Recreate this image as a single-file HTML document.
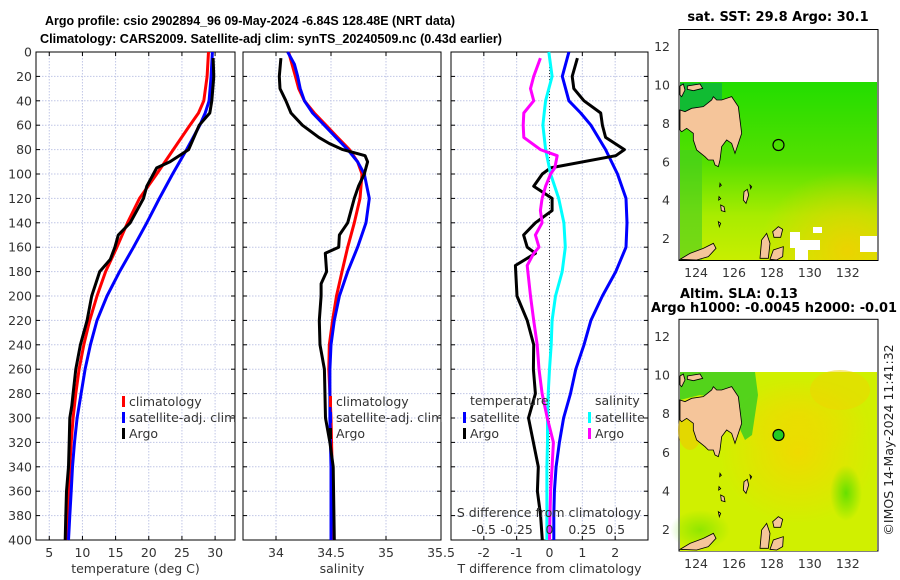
<!DOCTYPE html>
<html><head><meta charset="utf-8"><style>
html,body{margin:0;padding:0;background:#fff;}
svg{display:block;font-family:"DejaVu Sans","Liberation Sans",sans-serif;}
.tk{font-size:12.5px;fill:#333;}
.ttl{font-size:13px;font-weight:bold;fill:#000;font-family:"Liberation Sans",sans-serif;}
</style></head><body>
<svg id="fig" width="900" height="580" viewBox="0 0 900 580" xmlns="http://www.w3.org/2000/svg">
<defs>
<linearGradient id="sstg" x1="0" y1="0" x2="0" y2="1">
<stop offset="0" stop-color="#22dd00"/><stop offset="0.45" stop-color="#55e000"/><stop offset="0.75" stop-color="#a8ec00"/><stop offset="1" stop-color="#c8ee00"/></linearGradient>
<radialGradient id="sstr" cx="0.85" cy="0.95" r="0.45"><stop offset="0" stop-color="#f0d000" stop-opacity="0.9"/><stop offset="1" stop-color="#f0d000" stop-opacity="0"/></radialGradient>
<radialGradient id="slar" cx="0.6" cy="0.45" r="0.4"><stop offset="0" stop-color="#f2d800" stop-opacity="0.9"/><stop offset="1" stop-color="#f2d800" stop-opacity="0"/></radialGradient>
<radialGradient id="slag" cx="0.5" cy="0.5" r="0.5"><stop offset="0" stop-color="#66e000"/><stop offset="1" stop-color="#66e000" stop-opacity="0"/></radialGradient>
<g id="land">
<path d="M90,330 L105,335 L125,325 L160,320 L185,300 L190,290 L200,300 L215,300 L245,290 L265,320 L275,400 L265,430 L255,460 L245,430 L230,420 L215,440 L210,480 L205,500 L195,495 L190,480 L175,480 L165,470 L140,450 L130,420 L130,400 L110,385 L95,395 L90,390 Z" fill="#f5c59a" stroke="#000" stroke-width="2.5"/>
<path d="M112,258 L150,252 L158,265 L130,272 L112,268 Z" fill="#f5c59a" stroke="#000" stroke-width="2.5"/>
<path d="M90,258 L100,252 L105,270 L95,290 L90,285 Z" fill="#f5c59a" stroke="#000" stroke-width="2.5"/>
<path d="M330,775 L335,720 L350,700 L360,730 L355,775 Z" fill="#f5c59a" stroke="#000" stroke-width="2.5"/>
<path d="M368,695 L385,680 L398,688 L392,712 L372,712 Z" fill="#f5c59a" stroke="#000" stroke-width="2.5"/>
<path d="M360,778 L370,750 L400,740 L398,770 L380,780 Z" fill="#f5c59a" stroke="#000" stroke-width="2.5"/>
<path d="M90,778 L120,760 L160,745 L190,730 L198,745 L175,770 L140,780 Z" fill="#f5c59a" stroke="#000" stroke-width="2.5"/>
<path d="M282,575 L292,568 L296,585 L288,610 L280,600 Z" fill="#f5c59a" stroke="#000" stroke-width="2.5"/>
<path d="M212,615 L222,620 L225,635 L214,632 Z M205,665 L212,670 L208,680 Z M300,555 L305,560 L302,566 Z M207,590 L212,596 L206,600 Z M210,550 L214,556 L209,560 Z" fill="#f5c59a" stroke="#000" stroke-width="2.5"/>
</g>
</defs>
<g id="titles">
<text class="ttl" x="45" y="25" textLength="410" lengthAdjust="spacingAndGlyphs">Argo profile: csio 2902894_96 09-May-2024 -6.84S 128.48E (NRT data)</text>
<text class="ttl" x="40" y="43" textLength="462" lengthAdjust="spacingAndGlyphs">Climatology: CARS2009. Satellite-adj clim: synTS_20240509.nc (0.43d earlier)</text>
</g>
<g id="plots"></g>
<g id="maps">
<g>
<rect x="679" y="29.5" width="199" height="231" fill="#fff" stroke="#000" stroke-width="1"/>
<rect x="680" y="82" width="197" height="178" fill="url(#sstg)"/>
<rect x="680" y="82" width="197" height="178" fill="url(#sstr)"/>
<rect x="680" y="83" width="42" height="28" fill="#11bb33"/>
<rect x="680" y="150" width="22" height="110" fill="#44cc22" opacity="0.6"/>
<path d="M790,232 L800,232 L800,240 L820,240 L820,250 L808,250 L808,260 L795,260 L795,248 L790,248 Z M860,236 L877,236 L877,252 L860,252 Z M813,227 L822,227 L822,233 L813,233 Z" fill="#fff"/>
<use href="#land" transform="translate(650,0) scale(0.33333)"/>
<circle cx="778.5" cy="145" r="5.5" fill="none" stroke="#000" stroke-width="1.2"/>
<text class="ttl" x="778" y="21" text-anchor="middle" style="font-family:'DejaVu Sans',sans-serif">sat. SST: 29.8 Argo: 30.1</text>
<text class="ttl" x="680" y="298" style="font-family:'DejaVu Sans',sans-serif">Altim. SLA: 0.13</text>
</g>
<g>
<rect x="679" y="319.3" width="199" height="231.7" fill="#fff" stroke="#000" stroke-width="1"/>
<rect x="680" y="372" width="197" height="179" fill="#d0f000"/>
<rect x="680" y="372" width="197" height="179" fill="url(#slar)"/>
<rect x="680" y="372" width="197" height="100" fill="url(#slar)" opacity="0.6"/>
<ellipse cx="840" cy="390" rx="30" ry="20" fill="#f0d400" opacity="0.5"/>
<path d="M680,372 L755,372 L758,395 L752,435 L745,440 L738,425 L730,400 L700,395 L680,400 Z" fill="#33cc22" opacity="0.8"/>
<ellipse cx="846" cy="493" rx="16" ry="28" fill="url(#slag)"/>
<ellipse cx="700" cy="530" rx="30" ry="20" fill="url(#slag)" opacity="0.6"/>
<ellipse cx="690" cy="430" rx="12" ry="20" fill="#f0c800" opacity="0.6"/>
<use href="#land" transform="translate(650,290) scale(0.33333)"/>
<circle cx="778.5" cy="435" r="5.5" fill="#22cc22" stroke="#000" stroke-width="1.2"/>
<text class="ttl" x="651" y="312" textLength="246" lengthAdjust="spacingAndGlyphs" style="font-family:'DejaVu Sans',sans-serif">Argo h1000: -0.0045 h2000: -0.01</text>
<text class="tk" transform="translate(893,440) rotate(-90)" text-anchor="middle" style="font-size:12.5px;fill:#222">©IMOS 14-May-2024 11:41:32</text>
</g>
</g>
</svg>
<script>
// ---- data ----
const depths = [0,20,40,50,60,80,100,120,140,160,180,200,220,240,260,280,300,320,340,360,380,400];
const tempClim = [29.0,28.8,28.3,27.5,26.2,23.7,21.2,18.6,16.8,15.2,13.5,12.2,11.1,10.2,9.5,9.0,8.6,8.3,8.1,7.9,7.8,7.6];
const tempSat = [29.6,29.4,29.1,28.5,27.7,25.7,23.6,21.6,19.7,17.7,15.6,13.7,12.2,11.2,10.4,9.8,9.2,8.8,8.5,8.3,8.1,7.9];
const argoDepths = [5,20,40,50,60,80,90,95,100,110,120,140,150,160,170,180,200,220,240,260,280,290,300,320,340,360,380,400];
const tempArgo = [29.7,29.8,29.5,29.2,27.6,26.0,23.2,21.2,20.7,19.7,19.2,17.2,15.4,14.9,14.2,12.6,11.4,10.7,9.7,9.0,8.6,8.4,8.1,8.0,7.9,7.6,7.5,7.4];

const salDepths = [0,10,20,30,40,50,60,70,80,90,100,120,140,160,180,200,220,240,260,300,340,400];
const salClim = [34.115,34.145,34.176,34.206,34.258,34.348,34.455,34.56,34.667,34.742,34.782,34.764,34.712,34.652,34.6,34.55,34.515,34.485,34.48,34.5,34.51,34.52];
const salSat = [34.106,34.167,34.197,34.22,34.258,34.333,34.439,34.545,34.652,34.742,34.803,34.848,34.818,34.742,34.652,34.576,34.53,34.5,34.49,34.49,34.5,34.5];
const salArgoDepths = [5,20,30,40,50,60,70,75,80,85,90,100,110,120,140,150,160,165,180,190,200,220,240,260,300,320,340,400];
const salArgo = [34.045,34.03,34.036,34.09,34.136,34.24,34.39,34.485,34.606,34.81,34.833,34.803,34.75,34.712,34.652,34.576,34.57,34.448,34.46,34.41,34.41,34.394,34.4,34.44,34.45,34.49,34.52,34.53];

const diffDepths = [0,20,40,50,60,80,100,120,140,160,180,200,220,240,260,280,300,320,340,360,380,400];
const tDiffSat = [0.59,0.39,0.59,0.95,1.26,1.71,2.07,2.33,2.36,2.33,2.02,1.61,1.26,1.05,0.8,0.64,0.43,0.3,0.2,0.15,0.13,0.13];
const sDiffSat = [-0.005,0.02,-0.03,-0.04,-0.05,-0.03,0.008,0.07,0.11,0.12,0.097,0.046,0.02,0.013,0.0,-0.01,-0.015,-0.015,-0.02,-0.02,-0.02,-0.02];
const argoDiffDepths = [5,20,30,40,50,60,70,80,85,95,100,110,120,130,140,150,160,165,175,200,220,240,260,280,300,320,340,360,380,400];
const tDiffArgo = [0.85,0.69,0.74,1.05,1.56,1.61,1.71,2.28,2.02,0.03,-0.22,-0.48,0.08,0.08,-0.43,-0.79,-0.68,-0.43,-1.04,-0.99,-0.68,-0.48,-0.49,-0.43,-0.64,-0.49,-0.34,-0.37,-0.27,-0.22];
const sDiffArgo = [-0.069,-0.12,-0.145,-0.12,-0.196,-0.2,-0.196,-0.069,0.059,0.04,0.008,-0.03,-0.056,-0.069,-0.056,-0.107,-0.08,-0.12,-0.17,-0.145,-0.12,-0.094,-0.08,-0.056,-0.017,0.03,0.02,0.008,0.004,0.0];

const depthTicks = [0,20,40,60,80,100,120,140,160,180,200,220,240,260,280,300,320,340,360,380,400];
const tempTicks = [5,10,15,20,25,30];
const salTicks = [34,34.5,35,35.5];
const tDiffTicks = [-2,-1,0,1,2];
const tDiffLabels = [-2,-1,0,1,2];
const sDiffTicks = [-0.5,-0.25,0,0.25,0.5];

// ---- drawing ----
const NS = "http://www.w3.org/2000/svg";
const root = document.getElementById('plots');
const Y0 = 52, Y1 = 540;
function yS(d){ return Y0 + (d/400)*(Y1-Y0); }
function mk(tag, attrs, parent){
  const e = document.createElementNS(NS, tag);
  for (const k in attrs) e.setAttribute(k, attrs[k]);
  (parent||root).appendChild(e); return e;
}
const panels = [
  {name:'temperature-panel', x0:36, x1:235, d0:3, d1:33},
  {name:'salinity-panel', x0:243, x1:441, d0:33.7, d1:35.5},
  {name:'difference-panel', x0:451, x1:648, d0:-3, d1:3}
];
function xS(p, v){ return p.x0 + (v-p.d0)/(p.d1-p.d0)*(p.x1-p.x0); }

function drawFrame(p, xticks, labels, showY){
  const g = mk('g', {});
  
  
  depthTicks.forEach(d=>{
    const l = mk('line', {x1:p.x0, x2:p.x1, y1:yS(d), y2:yS(d), stroke:'#c0c6e6', 'stroke-width':1, 'stroke-dasharray':'1.5 1.5'}, g);
    
    
  });
  xticks.forEach(v=>{
    const l = mk('line', {x1:xS(p,v), x2:xS(p,v), y1:Y0, y2:Y1, stroke:'#c0c6e6', 'stroke-width':1, 'stroke-dasharray':'1.5 1.5'}, g);
    
    
  });
  depthTicks.forEach(d=>{
    mk('line', {x1:p.x0, x2:p.x0+4, y1:yS(d), y2:yS(d), stroke:'#000'}, g);
    mk('line', {x1:p.x1-4, x2:p.x1, y1:yS(d), y2:yS(d), stroke:'#000'}, g);
    if (showY){
      const t = mk('text', {x:p.x0-4, y:yS(d)+4.5, 'text-anchor':'end', class:'tk'}, g);
      t.textContent = d;
      
      
    }
  });
  xticks.forEach((v,i)=>{
    mk('line', {x1:xS(p,v), x2:xS(p,v), y1:Y1, y2:Y1-4, stroke:'#000'}, g);
    mk('line', {x1:xS(p,v), x2:xS(p,v), y1:Y0, y2:Y0+4, stroke:'#000'}, g);
    const t = mk('text', {x:xS(p,v), y:557, 'text-anchor':'middle', class:'tk'}, g);
    t.textContent = labels[i];
    
    
  });
  const box = mk('rect', {x:p.x0, y:Y0, width:p.x1-p.x0, height:Y1-Y0, fill:'none', stroke:'#000', 'stroke-width':1}, g);
  
  
  return g;
}
function drawLine(p, vals, ds, color, name, w){
  const pts = vals.map((v,i)=> xS(p,v).toFixed(1)+','+yS(ds[i]).toFixed(1)).join(' ');
  const l = mk('polyline', {points:pts, fill:'none', stroke:color, 'stroke-width':w||3, 'stroke-linejoin':'round'});
  
  
}
function text(x,y,s,name,anchor,cls){
  const t = mk('text', {x:x, y:y, 'text-anchor':anchor||'start', class:cls||'tk'});
  t.textContent = s;
  
  
  return t;
}
function legendMark(x,y,color,name){
  const r = mk('rect', {x:x, y:y-10, width:3, height:11, fill:color});
  
  
}

const p1 = panels[0];
drawFrame(p1, tempTicks, tempTicks, true);
drawLine(p1, tempClim, depths, '#ff0000', 'temp-climatology-line');
drawLine(p1, tempSat, depths, '#0000ff', 'temp-satellite-line');
drawLine(p1, tempArgo, argoDepths, '#000000', 'temp-argo-line');
text(135.5, 573, 'temperature (deg C)', 'x-axis-title-temperature', 'middle');
legendMark(122, 406, '#ff0000', 'legend-mark-climatology');
text(129, 406, 'climatology', 'legend-climatology');
legendMark(122, 422, '#0000ff', 'legend-mark-satellite');
text(129, 422, 'satellite-adj. clim', 'legend-satellite');
legendMark(122, 438, '#000', 'legend-mark-argo');
text(129, 438, 'Argo', 'legend-argo');

const p2 = panels[1];
drawFrame(p2, salTicks, ['34','34.5','35','35.5'], false);
drawLine(p2, salClim, salDepths, '#ff0000', 'sal-climatology-line');
drawLine(p2, salSat, salDepths, '#0000ff', 'sal-satellite-line');
drawLine(p2, salArgo, salArgoDepths, '#000000', 'sal-argo-line');
text(342, 573, 'salinity', 'x-axis-title-salinity', 'middle');
legendMark(329, 406, '#ff0000', 'legend-mark-climatology-2');
text(336, 406, 'climatology', 'legend-climatology-2');
legendMark(329, 422, '#0000ff', 'legend-mark-satellite-2');
text(336, 422, 'satellite-adj. clim', 'legend-satellite-2');
legendMark(329, 438, '#000', 'legend-mark-argo-2');
text(336, 438, 'Argo', 'legend-argo-2');
const cov = mk('rect',{x:441.5,y:395,width:9,height:35,fill:'#fff'});


mk('line',{x1:451,x2:451,y1:395,y2:430,stroke:'#000'});

const p3 = panels[2];
drawFrame(p3, tDiffTicks, tDiffLabels, false);
const zl = mk('line', {x1:xS(p3,0), x2:xS(p3,0), y1:Y0, y2:Y1, stroke:'#333', 'stroke-width':1, 'stroke-dasharray':'1 2'});


drawLine(p3, tDiffSat, diffDepths, '#0000ff', 'tdiff-satellite-line');
drawLine(p3, tDiffArgo, argoDiffDepths, '#000000', 'tdiff-argo-line');
drawLine(p3, sDiffSat.map(v=>v*4), diffDepths, '#00ffff', 'sdiff-satellite-line');
drawLine(p3, sDiffArgo.map(v=>v*4), argoDiffDepths, '#ff00ff', 'sdiff-argo-line');
text(549.5, 573, 'T difference from climatology', 'x-axis-title-tdiff', 'middle');
text(549, 517, 'S difference from climatology', 'sdiff-axis-title', 'middle');
sDiffTicks.forEach(v=>{
  text(xS(p3, v*4), 534, String(v), 's-tick-label', 'middle');
});
text(470, 405, 'temperature', 'legend-temperature-header');
legendMark(463, 422, '#0000ff', 'legend-mark-t-satellite');
text(470, 422, 'satellite', 'legend-t-satellite');
legendMark(463, 438, '#000', 'legend-mark-t-argo');
text(470, 438, 'Argo', 'legend-t-argo');
text(595, 405, 'salinity', 'legend-salinity-header');
legendMark(588, 422, '#00ffff', 'legend-mark-s-satellite');
text(595, 422, 'satellite', 'legend-s-satellite');
legendMark(588, 438, '#ff00ff', 'legend-mark-s-argo');
text(595, 438, 'Argo', 'legend-s-argo');

function mapAxes(top, bottom, name){
  const lonTicks=[124,126,128,130,132], latTicks=[2,4,6,8,10,12];
  const lx = v => 679 + (v-123.1)*18.96;
  const ly = v => bottom - (v-0.86)*((bottom-top)/12);
  lonTicks.forEach(v=>{
    mk('line',{x1:lx(v),x2:lx(v),y1:bottom,y2:bottom-3,stroke:'#000'});
    text(lx(v), bottom+17, String(v), name+'-lon-label', 'middle');
  });
  latTicks.forEach(v=>{
    mk('line',{x1:679,x2:682,y1:ly(v),y2:ly(v),stroke:'#000'});
    mk('line',{x1:875,x2:878,y1:ly(v),y2:ly(v),stroke:'#000'});
    text(670, ly(v)+5, String(v), name+'-lat-label', 'end');
  });
}
mapAxes(29.5, 260, 'sst-map');
mapAxes(319.3, 551, 'sla-map');
</script>
</body></html>
